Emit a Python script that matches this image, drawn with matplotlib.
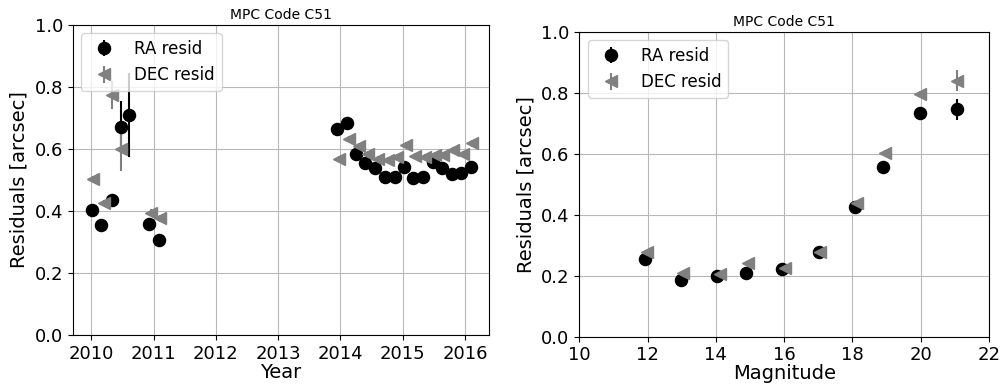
import numpy as np
import matplotlib.pyplot as plt

# Residuals binned by epoch
year_ra = [2010.01, 2010.16, 2010.33, 2010.47, 2010.61, 2010.93, 2011.08,
           2013.95, 2014.10, 2014.25, 2014.39, 2014.55, 2014.71, 2014.87,
           2015.02, 2015.17, 2015.33, 2015.49, 2015.63, 2015.79, 2015.94, 2016.09]
ra_year = [0.403, 0.355, 0.434, 0.672, 0.710, 0.358, 0.306,
           0.664, 0.683, 0.584, 0.556, 0.538, 0.509, 0.509,
           0.541, 0.505, 0.509, 0.559, 0.538, 0.519, 0.524, 0.541]
ra_year_err = [0.01, 0.01, 0.02, 0.083, 0.135, 0.01, 0.01,
               0.01, 0.01, 0.01, 0.01, 0.01, 0.01, 0.01,
               0.01, 0.01, 0.01, 0.01, 0.01, 0.01, 0.01, 0.01]

year_dec = [2010.02, 2010.20, 2010.33, 2010.48, 2010.95, 2011.10,
            2013.97, 2014.13, 2014.29, 2014.45, 2014.61, 2014.77, 2014.90,
            2015.05, 2015.20, 2015.36, 2015.52, 2015.65, 2015.81, 2015.96, 2016.11]
dec_year = [0.503, 0.425, 0.774, 0.599, 0.395, 0.376,
            0.567, 0.631, 0.610, 0.583, 0.567, 0.565, 0.575,
            0.613, 0.577, 0.575, 0.581, 0.581, 0.597, 0.583, 0.618]
dec_year_err = [0.01, 0.01, 0.045, 0.07, 0.01, 0.01,
                0.01, 0.01, 0.01, 0.01, 0.01, 0.01, 0.01,
                0.01, 0.01, 0.01, 0.01, 0.01, 0.01, 0.01, 0.01]

# Residuals binned by magnitude
mag_ra = [11.92, 12.99, 14.04, 14.88, 15.95, 17.02, 18.08, 18.90, 19.98, 21.05]
ra_mag = [0.254, 0.186, 0.199, 0.210, 0.221, 0.279, 0.425, 0.556, 0.735, 0.745]
ra_mag_err = [0.005, 0.005, 0.005, 0.005, 0.005, 0.005, 0.005, 0.01, 0.01, 0.033]

mag_dec = [11.97, 13.05, 14.12, 14.95, 16.03, 17.05, 18.12, 18.95, 19.98, 21.05]
dec_mag = [0.279, 0.208, 0.206, 0.240, 0.224, 0.279, 0.437, 0.603, 0.795, 0.839]
dec_mag_err = [0.005, 0.005, 0.005, 0.005, 0.005, 0.005, 0.005, 0.01, 0.01, 0.035]

fig = plt.figure(figsize=(10, 3.84), dpi=100)
ax1 = fig.add_axes([0.0727, 0.1276, 0.4166, 0.8073])
ax2 = fig.add_axes([0.5793, 0.1232, 0.4097, 0.7943])

def draw(ax, x_ra, y_ra, e_ra, x_dec, y_dec, e_dec):
    ax.errorbar(x_ra, y_ra, yerr=e_ra, fmt='o', color='k', ms=8.7,
                elinewidth=1.5, label='RA resid', zorder=3)
    ax.errorbar(x_dec, y_dec, yerr=e_dec, fmt='<', color='gray', ms=8.7,
                elinewidth=1.5, label='DEC resid', zorder=3)
    ax.set_ylim(0, 1.0)
    ax.set_yticks([0.0, 0.2, 0.4, 0.6, 0.8, 1.0])
    ax.set_ylabel('Residuals [arcsec]', fontsize=14)
    ax.set_title('MPC Code C51', fontsize=10, pad=4)
    ax.tick_params(labelsize=13)
    ax.grid(True, color='#b8b8b8', lw=0.8)
    ax.set_axisbelow(True)
    ax.legend(loc='upper left', fontsize=12)

draw(ax1, year_ra, ra_year, ra_year_err, year_dec, dec_year, dec_year_err)
ax1.set_xlim(2009.7, 2016.39)
ax1.set_xticks(range(2010, 2017))
ax1.set_xlabel('Year', fontsize=14, labelpad=0)

draw(ax2, mag_ra, ra_mag, ra_mag_err, mag_dec, dec_mag, dec_mag_err)
ax2.set_xlim(10, 22)
ax2.set_xticks(range(10, 23, 2))
ax2.set_xlabel('Magnitude', fontsize=14, labelpad=0)

fig.savefig('out.png', dpi=100)
